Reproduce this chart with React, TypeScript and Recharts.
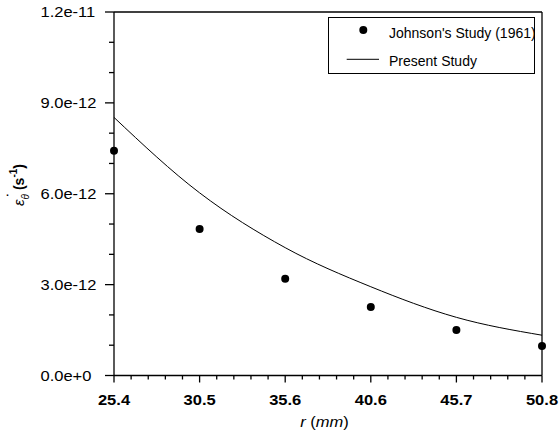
import React from 'react';
import { ComposedChart, Line, Scatter, XAxis, YAxis, Legend, ReferenceLine } from 'recharts';

// radial position r (mm) — tick positions (1.0 … 2.0 in)
const R_MM = [25.4, 30.48, 35.56, 40.64, 45.72, 50.8];
// Johnson's Study (1961) – hoop strain rate (1/s)
const JOHNSON_1961 = [7.42e-12, 4.84e-12, 3.19e-12, 2.26e-12, 1.5e-12, 0.97e-12];
// Present Study – hoop strain rate (1/s)
const PRESENT_STUDY = [8.52e-12, 6.03e-12, 4.22e-12, 2.93e-12, 1.92e-12, 1.33e-12];

const X_MAJOR_TICKS = [25.4, 30.48, 35.56, 40.64, 45.72, 50.8];
const X_MINOR_DIVISIONS = 5;
const Y_TICKS = [0, 1e-12, 2e-12, 3e-12, 4e-12, 5e-12, 6e-12, 7e-12, 8e-12, 9e-12, 1e-11, 1.1e-11, 1.2e-11];
const Y_MAJOR_TICKS = [0, 3e-12, 6e-12, 9e-12, 1.2e-11];

const johnsonData = R_MM.map((r, i) => ({ r, v: JOHNSON_1961[i] }));
const presentData = R_MM.map((r, i) => ({ r, v: PRESENT_STUDY[i] }));

const xTicksAll: number[] = [];
for (let i = 0; i < X_MAJOR_TICKS.length - 1; i++) {
  const a = X_MAJOR_TICKS[i];
  const b = X_MAJOR_TICKS[i + 1];
  for (let k = 0; k < X_MINOR_DIVISIONS; k++) xTicksAll.push(a + ((b - a) * k) / X_MINOR_DIVISIONS);
}
xTicksAll.push(X_MAJOR_TICKS[X_MAJOR_TICKS.length - 1]);

const FONT = '"Liberation Sans", Arial, Helvetica, sans-serif';
const STRETCH = 1.18;

const isMajorX = (v: number) => X_MAJOR_TICKS.some((t) => Math.abs(t - v) < 1e-6);
const isMajorY = (v: number) => Y_MAJOR_TICKS.some((t) => Math.abs(t - v) < 1e-15);

const XTick = (props: any) => {
  const { x, y, payload } = props;
  const v = payload.value as number;
  const major = isMajorX(v);
  return (
    <g>
      <line x1={x} y1={y} x2={x} y2={y + (major ? 7 : 4)} stroke="#000" strokeWidth={1.3} />
      {major && (
        <text
          transform={`translate(${x},${y + 29}) scale(${STRETCH},1)`}
          textAnchor="middle"
          fontFamily={FONT}
          fontSize={14}
          fontWeight="bold"
          fill="#000"
        >
          {v.toFixed(1)}
        </text>
      )}
    </g>
  );
};

const YTick = (props: any) => {
  const { x, y, payload } = props;
  const v = payload.value as number;
  const major = isMajorY(v);
  return (
    <g>
      <line x1={x - (major ? 9 : 5)} y1={y} x2={x} y2={y} stroke="#000" strokeWidth={1.3} />
      {major && (
        <text
          transform={`translate(${x - 73.5},${y + 5.3}) scale(${STRETCH},1)`}
          textAnchor="start"
          fontFamily={FONT}
          fontSize={14}
          fill="#000"
        >
          {v.toExponential(1)}
        </text>
      )}
    </g>
  );
};

const renderLegend = (props: any) => {
  const payload = [...(props.payload || [])].sort(
    (a: any, b: any) => (a.type === 'circle' ? 0 : 1) - (b.type === 'circle' ? 0 : 1)
  );
  const rows = [
    { cy: 13, ty: 20.6 },
    { cy: 42.3, ty: 49.3 },
  ];
  return (
    <svg width={207} height={57} style={{ display: 'block' }}>
      <rect x={0.5} y={0.5} width={206} height={56} fill="#fff" stroke="#000" strokeWidth={1} />
      {payload.map((e: any, i: number) => {
        const row = rows[i] || rows[rows.length - 1];
        return (
          <g key={i}>
            {e.type === 'circle' ? (
              <circle cx={35.3} cy={row.cy} r={4} fill="#000" />
            ) : (
              <line x1={18.7} y1={row.cy} x2={51} y2={row.cy} stroke="#000" strokeWidth={1} />
            )}
            <text x={61} y={row.ty} fontFamily={FONT} fontSize={14} fill="#000">
              {e.value}
            </text>
          </g>
        );
      })}
    </svg>
  );
};

const YLabel = () => (
  <g>
    <text x={7.5} y={199} fontFamily={FONT} fontSize={15} fill="#000" textAnchor="middle">
      ·
    </text>
    <text
      transform="translate(24,185) rotate(-90)"
      textAnchor="middle"
      fontFamily={FONT}
      fontSize={14}
      fill="#000"
    >
      <tspan fontStyle="italic" fontSize={15}>ε</tspan>
      <tspan fontStyle="italic" fontSize={10} dy={5}>θ</tspan>
      <tspan dy={-5}> </tspan>
      <tspan fontWeight="bold">(s</tspan>
      <tspan fontWeight="bold" fontSize={10} dy={-7}>-1</tspan>
      <tspan fontWeight="bold" dy={7}>)</tspan>
    </text>
  </g>
);

const XLabel = () => (
  <text
    transform={`translate(324.5,427) scale(${STRETCH},1)`}
    textAnchor="middle"
    fontFamily={FONT}
    fontSize={14}
    fill="#000"
  >
    <tspan fontStyle="italic">r</tspan> (<tspan fontStyle="italic">mm</tspan>)
  </text>
);

const Dot = (props: any) => {
  const { cx, cy } = props;
  return <circle cx={cx} cy={cy} r={4} fill="#000" />;
};

export default function App() {
  return (
    <div style={{ position: 'absolute', left: 0, top: 0, background: '#fff' }}>
      <ComposedChart width={560} height={437} margin={{ top: 12, right: 18, bottom: 0, left: 0 }}>
        <XAxis
          dataKey="r"
          type="number"
          domain={[25.4, 50.8]}
          ticks={xTicksAll}
          interval={0}
          tickSize={0}
          tickMargin={0}
          tickLine={false}
          axisLine={{ stroke: '#000', strokeWidth: 1.3 }}
          tick={<XTick />}
          height={61.5}
          label={{ content: () => <XLabel /> }}
        />
        <YAxis
          dataKey="v"
          type="number"
          domain={[0, 1.2e-11]}
          ticks={Y_TICKS}
          interval={0}
          tickSize={0}
          tickMargin={0}
          tickLine={false}
          axisLine={{ stroke: '#000', strokeWidth: 1.3 }}
          tick={<YTick />}
          width={114}
          label={{ content: () => <YLabel /> }}
        />
        <ReferenceLine y={1.2e-11} stroke="#000" strokeWidth={1.3} />
        <ReferenceLine x={50.8} stroke="#000" strokeWidth={1.3} />
        <Scatter
          data={johnsonData}
          dataKey="v"
          name="Johnson's Study (1961)"
          fill="#000"
          shape={<Dot />}
          legendType="circle"
          isAnimationActive={false}
        />
        <Line
          data={presentData}
          dataKey="v"
          name="Present Study"
          type="monotone"
          stroke="#000"
          strokeWidth={1}
          dot={false}
          activeDot={false}
          legendType="line"
          isAnimationActive={false}
        />
        <Legend
          layout="horizontal"
          verticalAlign="middle"
          align="center"
          content={renderLegend}
          wrapperStyle={{ position: 'absolute', left: 328, top: 16.7, width: 207, height: 57 }}
        />
      </ComposedChart>
    </div>
  );
}
